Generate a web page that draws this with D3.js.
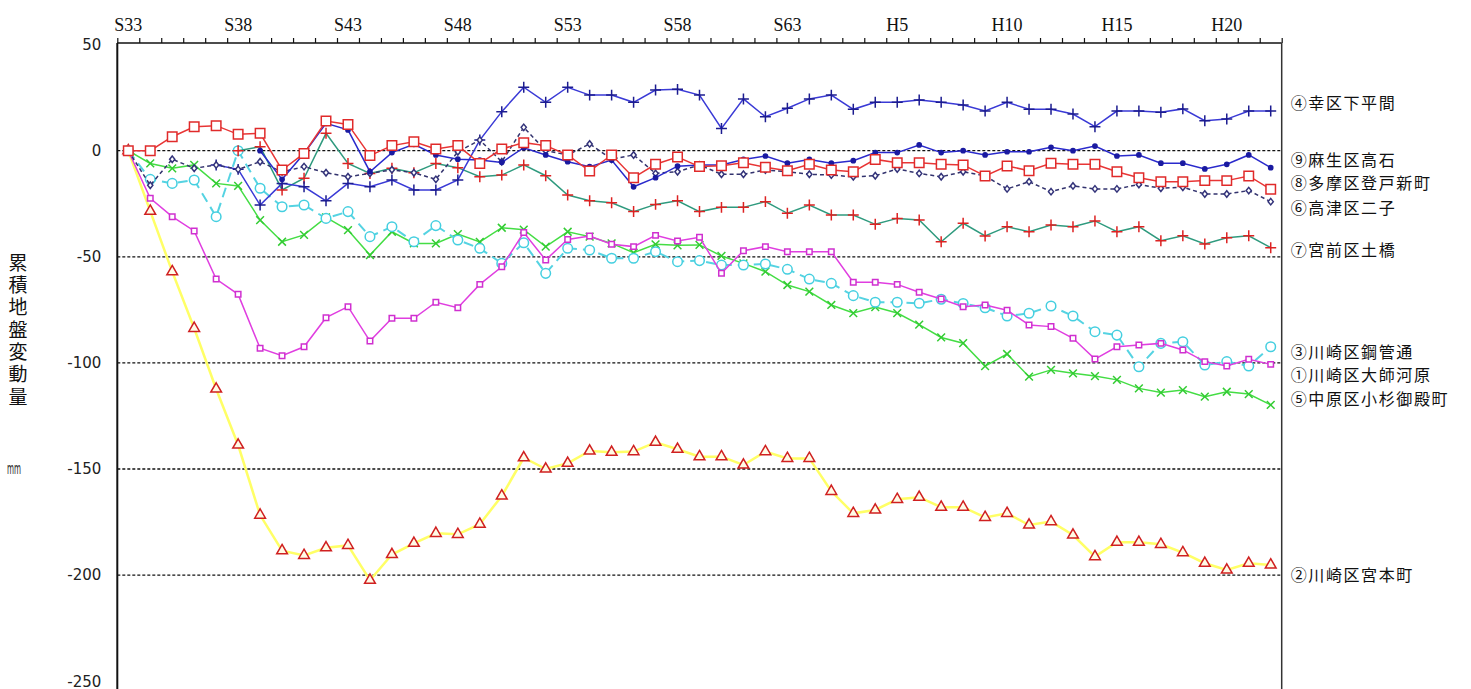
<!DOCTYPE html>
<html>
<head>
<meta charset="utf-8">
<script src="https://cdn.jsdelivr.net/npm/d3@7"></script>
<style>
  html, body { margin: 0; padding: 0; background: #fff; }
  svg { display: block; }
</style>
</head>
<body>
<div id="chart"></div>
<script>
// 年度 (S33 = 1958 ... H22 = 2010)
const years = [
  'S33','S34','S35','S36','S37','S38','S39','S40','S41','S42','S43','S44','S45','S46','S47','S48',
  'S49','S50','S51','S52','S53','S54','S55','S56','S57','S58','S59','S60','S61','S62','S63',
  'H1','H2','H3','H4','H5','H6','H7','H8','H9','H10','H11','H12','H13','H14','H15','H16',
  'H17','H18','H19','H20','H21','H22'
];
const yearTicks = ['S33','S38','S43','S48','S53','S58','S63','H5','H10','H15','H20'];
const valueTicks = [50, 0, -50, -100, -150, -200, -250];
const gridValues = [0, -50, -100, -150, -200];

// 累積地盤変動量 (mm)
const s1 = [0,-22.4,-31.1,-37.8,-60.5,-67.7,-93.1,-96.6,-92.4,-78.7,-73.5,-89.7,-79,-79,-71.4,-74,
  -63,-54.7,-38.6,-51.5,-41.8,-40.2,-44.1,-45.2,-39.9,-42.6,-40.8,-57.8,-47.1,-45.2,-47.6,
  -47.6,-47.6,-62,-62,-63,-66.7,-69.9,-73.5,-72.7,-75.2,-82.1,-82.9,-88.4,-98.2,-92.4,-91.6,
  -90.8,-93.9,-99.4,-101.5,-98.3,-100.7];
const s2 = [0,-28.5,-57,-83.7,-112.3,-138.7,-171.7,-188.5,-190.7,-187.1,-186,-202.4,-190.3,-185,-180.3,-180.8,
  -176,-162.7,-144.7,-150,-147.3,-141.5,-142.1,-141.8,-137.4,-140.7,-144.2,-144.2,-148.1,-141.8,-145,
  -145,-160.5,-170.9,-169.3,-164.3,-163.3,-168,-168,-172.8,-170.9,-176.4,-174.8,-181.1,-191.3,-184.5,-184.5,
  -185.5,-189.4,-194.4,-197.6,-194.4,-195.2];
const s3 = [0,-13.5,-15.4,-13.8,-31.1,0,-17.7,-26.4,-25.6,-31.9,-28.7,-40.5,-35.8,-42.9,-35.3,-42.1,
  -46,-53.1,-43.4,-57.8,-46,-46.8,-50.7,-50.7,-47.6,-52.3,-51.8,-53.9,-53.9,-53.4,-55.9,
  -60.5,-62.5,-68.3,-71.4,-71.4,-71.9,-70,-72,-74,-77.9,-76.6,-73.2,-77.9,-85.3,-86.9,-101.8,
  -90.8,-90,-101,-99.4,-101.5,-92.4];
const s4 = [null,null,null,null,-6.7,-8.8,-25.6,-15.4,-17,-23.6,-15.4,-17,-13.8,-18.5,-18.5,-13.8,
  5,18.4,29.9,22.8,29.9,26.2,26.2,22.8,28.6,28.9,26.2,10.5,24.4,16,20,
  24.4,26.2,19.5,22.8,22.8,23.9,22.8,21.5,18.7,22.8,19.5,19.5,17.3,11.3,18.7,18.7,
  18.1,19.7,14.1,14.9,18.7,18.7];
const s5 = [0,-6,-8.3,-6.7,-15.4,-16.6,-32.7,-42.9,-39.7,-31.4,-37.4,-49.2,-38.2,-43.7,-43.7,-39.3,
  -43,-36.3,-37.2,-45.2,-38.2,-40.5,-43.7,-48.1,-44.1,-44.6,-44.4,-49.6,-53.1,-57,-63.3,
  -66.4,-72.7,-76.5,-73.7,-76.5,-82,-88,-90.7,-101.5,-95.8,-106.5,-103.3,-104.9,-106.2,-108,-112,
  -114,-112.8,-115.9,-113.6,-114.7,-119.8];
const s6 = [0,-16.3,-4,-8.3,-6.7,-8.8,-5.2,-10,-7.5,-10.4,-12.3,-10.7,-9,-10.4,-13.5,-0.5,
  5,-5.2,11,0,-2,3.2,-4,-2,-10.7,-9.9,-6.7,-11.1,-11.1,-9.1,-9.9,
  -11.1,-11.5,-12.3,-11.8,-8.6,-10.7,-12.3,-9.9,-11.9,-18,-14.6,-19.3,-16.6,-18,-18,-15.9,
  -17.7,-17.2,-20.4,-20.4,-18.8,-24];
const s7 = [null,null,null,null,null,0,1.9,-18.5,-13,8.2,-6,-10.7,-8.3,-10.4,-6,-8,
  -12.3,-11.5,-6.7,-11.8,-20.9,-23.6,-24.5,-28.7,-25.3,-23.6,-28.7,-26.7,-26.7,-24,-29.5,
  -25.6,-30.3,-30.3,-34.7,-31.9,-32.7,-42.9,-34.2,-40.2,-35.8,-38.2,-35,-35.8,-33.1,-38.2,-35.8,
  -42.4,-40.1,-44,-41,-40.1,-45.7];
const s8 = [0,0,6.6,11.3,11.8,7.7,8.2,-9.1,-1.3,14,12.4,-2.3,2.4,4.2,0.8,2.4,
  -6,0.8,3.8,2.4,-2,-9.6,-2,-12.7,-6.4,-3,-7.5,-7.1,-5.7,-7.8,-9.4,
  -6.4,-9.1,-9.9,-4.1,-5.7,-5.7,-6.4,-6.7,-11.9,-7.2,-9.4,-5.9,-6.4,-6.4,-9.9,-12.7,
  -14.6,-14.6,-14.1,-14.1,-11.9,-18.2];
const s9 = [null,null,null,null,null,null,0,-13.5,-1.3,12.9,9.8,-9.9,-0.9,3,-2,-4,
  -4.4,-5.5,1.4,-2,-5.2,-7.5,-4.4,-17,-12.7,-7.3,-6.7,-6.7,-4.1,-2.5,-5.9,
  -4.1,-5.9,-4.7,-0.9,-0.9,2.7,-0.9,0,-2,-0.5,-0.5,1.6,0,2.2,-2.5,-2,
  -5.9,-5.9,-8.6,-6.4,-2,-8];

// marker shapes
const plus = { draw(ctx, size) { let r = Math.sqrt(size) / 2; ctx.moveTo(-r, 0); ctx.lineTo(r, 0); ctx.moveTo(0, -r); ctx.lineTo(0, r); } };
const cross = { draw(ctx, size) { let r = Math.sqrt(size) / 2; ctx.moveTo(-r, -r); ctx.lineTo(r, r); ctx.moveTo(-r, r); ctx.lineTo(r, -r); } };
const diamond = { draw(ctx, size) { let r = Math.sqrt(size) / 2; ctx.moveTo(0, -r); ctx.lineTo(r * 0.8, 0); ctx.lineTo(0, r); ctx.lineTo(-r * 0.8, 0); ctx.closePath(); } };

// draw order matters a little, bottom first
const series = [
  { name: '②川崎区宮本町', values: s2, line: '#ffff66', lw: 2.5, dash: null, sym: d3.symbolTriangle, size: 50, mk: '#d02020', fill: '#fffbe6', labelY: 574 },
  { name: '⑤中原区小杉御殿町', values: s5, line: '#44dd44', lw: 1.5, dash: null, sym: cross, size: 60, mk: '#33cc33', fill: 'none', labelY: 397.5 },
  { name: '③川崎区鋼管通', values: s3, line: '#55d3e2', lw: 2, dash: '10,6', sym: d3.symbolCircle, size: 72, mk: '#44cfe0', fill: '#fff', labelY: 350.5 },
  { name: '①川崎区大師河原', values: s1, line: '#e03ee0', lw: 1.5, dash: null, sym: d3.symbolSquare, size: 30, mk: '#d030d0', fill: '#fff', labelY: 374 },
  { name: '⑦宮前区土橋', values: s7, line: '#2f9a7e', lw: 1.5, dash: null, sym: plus, size: 120, mk: '#dd2222', fill: 'none', labelY: 249 },
  { name: '④幸区下平間', values: s4, line: '#3a3ad6', lw: 1.5, dash: null, sym: plus, size: 120, mk: '#1c1c90', fill: 'none', labelY: 102 },
  { name: '⑥高津区二子', values: s6, line: '#33336e', lw: 1.5, dash: '4,3', sym: diamond, size: 42, mk: '#33337a', fill: '#fff', labelY: 207 },
  { name: '⑨麻生区高石', values: s9, line: '#2a2acc', lw: 1.5, dash: null, sym: d3.symbolCircle, size: 14, mk: '#1a1aa0', fill: '#1a1aa0', labelY: 158.5 },
  { name: '⑧多摩区登戸新町', values: s8, line: '#e83535', lw: 1.5, dash: null, sym: d3.symbolSquare, size: 90, mk: '#e02a2a', fill: '#fff', labelY: 182 }
];

const W = 1471, H = 689;
const plotLeft = 117.3, plotRight = 1281.7, plotTop = 43;

let svg = d3.select('#chart').append('svg')
  .attr('width', W)
  .attr('height', H);

let x = d3.scaleBand()
  .domain(years)
  .range([plotLeft, plotRight])
  .padding(0);

let y = d3.scaleLinear()
  .domain([50, -250])
  .range([44.6, 681.2]);

let cx = d => x(d) + x.bandwidth() / 2;

// grid
svg.append('g')
  .selectAll('line')
  .data(gridValues)
  .enter()
  .append('line')
  .attr('x1', plotLeft)
  .attr('x2', plotRight)
  .attr('y1', d => y(d))
  .attr('y2', d => y(d))
  .attr('stroke', '#111')
  .attr('stroke-width', 1.3)
  .attr('stroke-dasharray', '3,2');

// top axis: labels at year centres, ticks at year boundaries
let topLabels = svg.append('g')
  .attr('transform', `translate(0,${plotTop})`)
  .call(d3.axisTop(x).tickValues(yearTicks).tickSize(0).tickPadding(12));
topLabels.select('.domain').remove();
topLabels.selectAll('text')
  .attr('font-family', '"Liberation Serif", "DejaVu Serif", serif')
  .attr('font-size', 18)
  .attr('fill', '#111');

let bounds = d3.scaleLinear().domain([0, years.length]).range([plotLeft, plotRight]);
let topTicks = svg.append('g')
  .attr('transform', `translate(0,${plotTop})`)
  .call(d3.axisTop(bounds).tickValues(d3.range(years.length + 1)).tickSize(5).tickFormat(''));
topTicks.select('.domain').remove();
topTicks.selectAll('line').attr('stroke', '#111').attr('stroke-width', 1.2);

// frame
svg.append('line').attr('x1', plotLeft).attr('x2', plotRight).attr('y1', plotTop).attr('y2', plotTop)
  .attr('stroke', '#111').attr('stroke-width', 1.5);
svg.append('line').attr('x1', plotLeft).attr('x2', plotLeft).attr('y1', plotTop).attr('y2', H)
  .attr('stroke', '#111').attr('stroke-width', 2);
svg.append('line').attr('x1', plotRight).attr('x2', plotRight).attr('y1', plotTop).attr('y2', H)
  .attr('stroke', '#333').attr('stroke-width', 1.5);

// left axis labels
let yAxis = svg.append('g')
  .attr('transform', `translate(${plotLeft},0)`)
  .call(d3.axisLeft(y).tickValues(valueTicks).tickSize(0).tickPadding(16).tickFormat(d => String(d)));
yAxis.select('.domain').remove();
yAxis.selectAll('text')
  .attr('font-family', '"DejaVu Sans", sans-serif')
  .attr('font-size', 15)
  .attr('fill', '#222');

// vertical axis title (one text, written top to bottom)
svg.append('text')
  .attr('x', 18)
  .attr('y', 253)
  .style('writing-mode', 'vertical-rl')
  .style('letter-spacing', '3.3px')
  .attr('font-family', '"Noto Sans CJK JP", sans-serif')
  .attr('font-size', 19)
  .attr('fill', '#111')
  .text('累積地盤変動量');

svg.append('text')
  .attr('x', 14)
  .attr('y', 474)
  .attr('text-anchor', 'middle')
  .attr('font-family', '"DejaVu Sans", sans-serif')
  .attr('font-size', 15)
  .attr('textLength', 14)
  .attr('lengthAdjust', 'spacingAndGlyphs')
  .attr('fill', '#222')
  .text('mm');

// series
let line = d3.line()
  .defined(d => d[1] != null)
  .x(d => cx(d[0]))
  .y(d => y(d[1]));

series.forEach(s => {
  let pts = years.map((yr, i) => [yr, s.values[i]]);
  let g = svg.append('g');
  g.append('path')
    .datum(pts)
    .attr('d', line)
    .attr('fill', 'none')
    .attr('stroke', s.line)
    .attr('stroke-width', s.lw)
    .attr('stroke-dasharray', s.dash);
  g.selectAll('path.mk')
    .data(pts.filter(d => d[1] != null))
    .enter()
    .append('path')
    .attr('class', 'mk')
    .attr('transform', d => `translate(${cx(d[0])},${y(d[1])})`)
    .attr('d', d3.symbol().type(s.sym).size(s.size))
    .attr('fill', s.fill)
    .attr('stroke', s.mk)
    .attr('stroke-width', 1.5);
});

// legend labels at right
svg.append('g')
  .selectAll('text')
  .data(series)
  .enter()
  .append('text')
  .attr('x', plotRight + 9)
  .attr('y', d => d.labelY)
  .attr('dominant-baseline', 'central')
  .attr('font-family', '"Noto Sans CJK JP", sans-serif')
  .attr('font-size', 16)
  .style('letter-spacing', '1.6px')
  .attr('fill', '#111')
  .text(d => d.name);
</script>
</body>
</html>
